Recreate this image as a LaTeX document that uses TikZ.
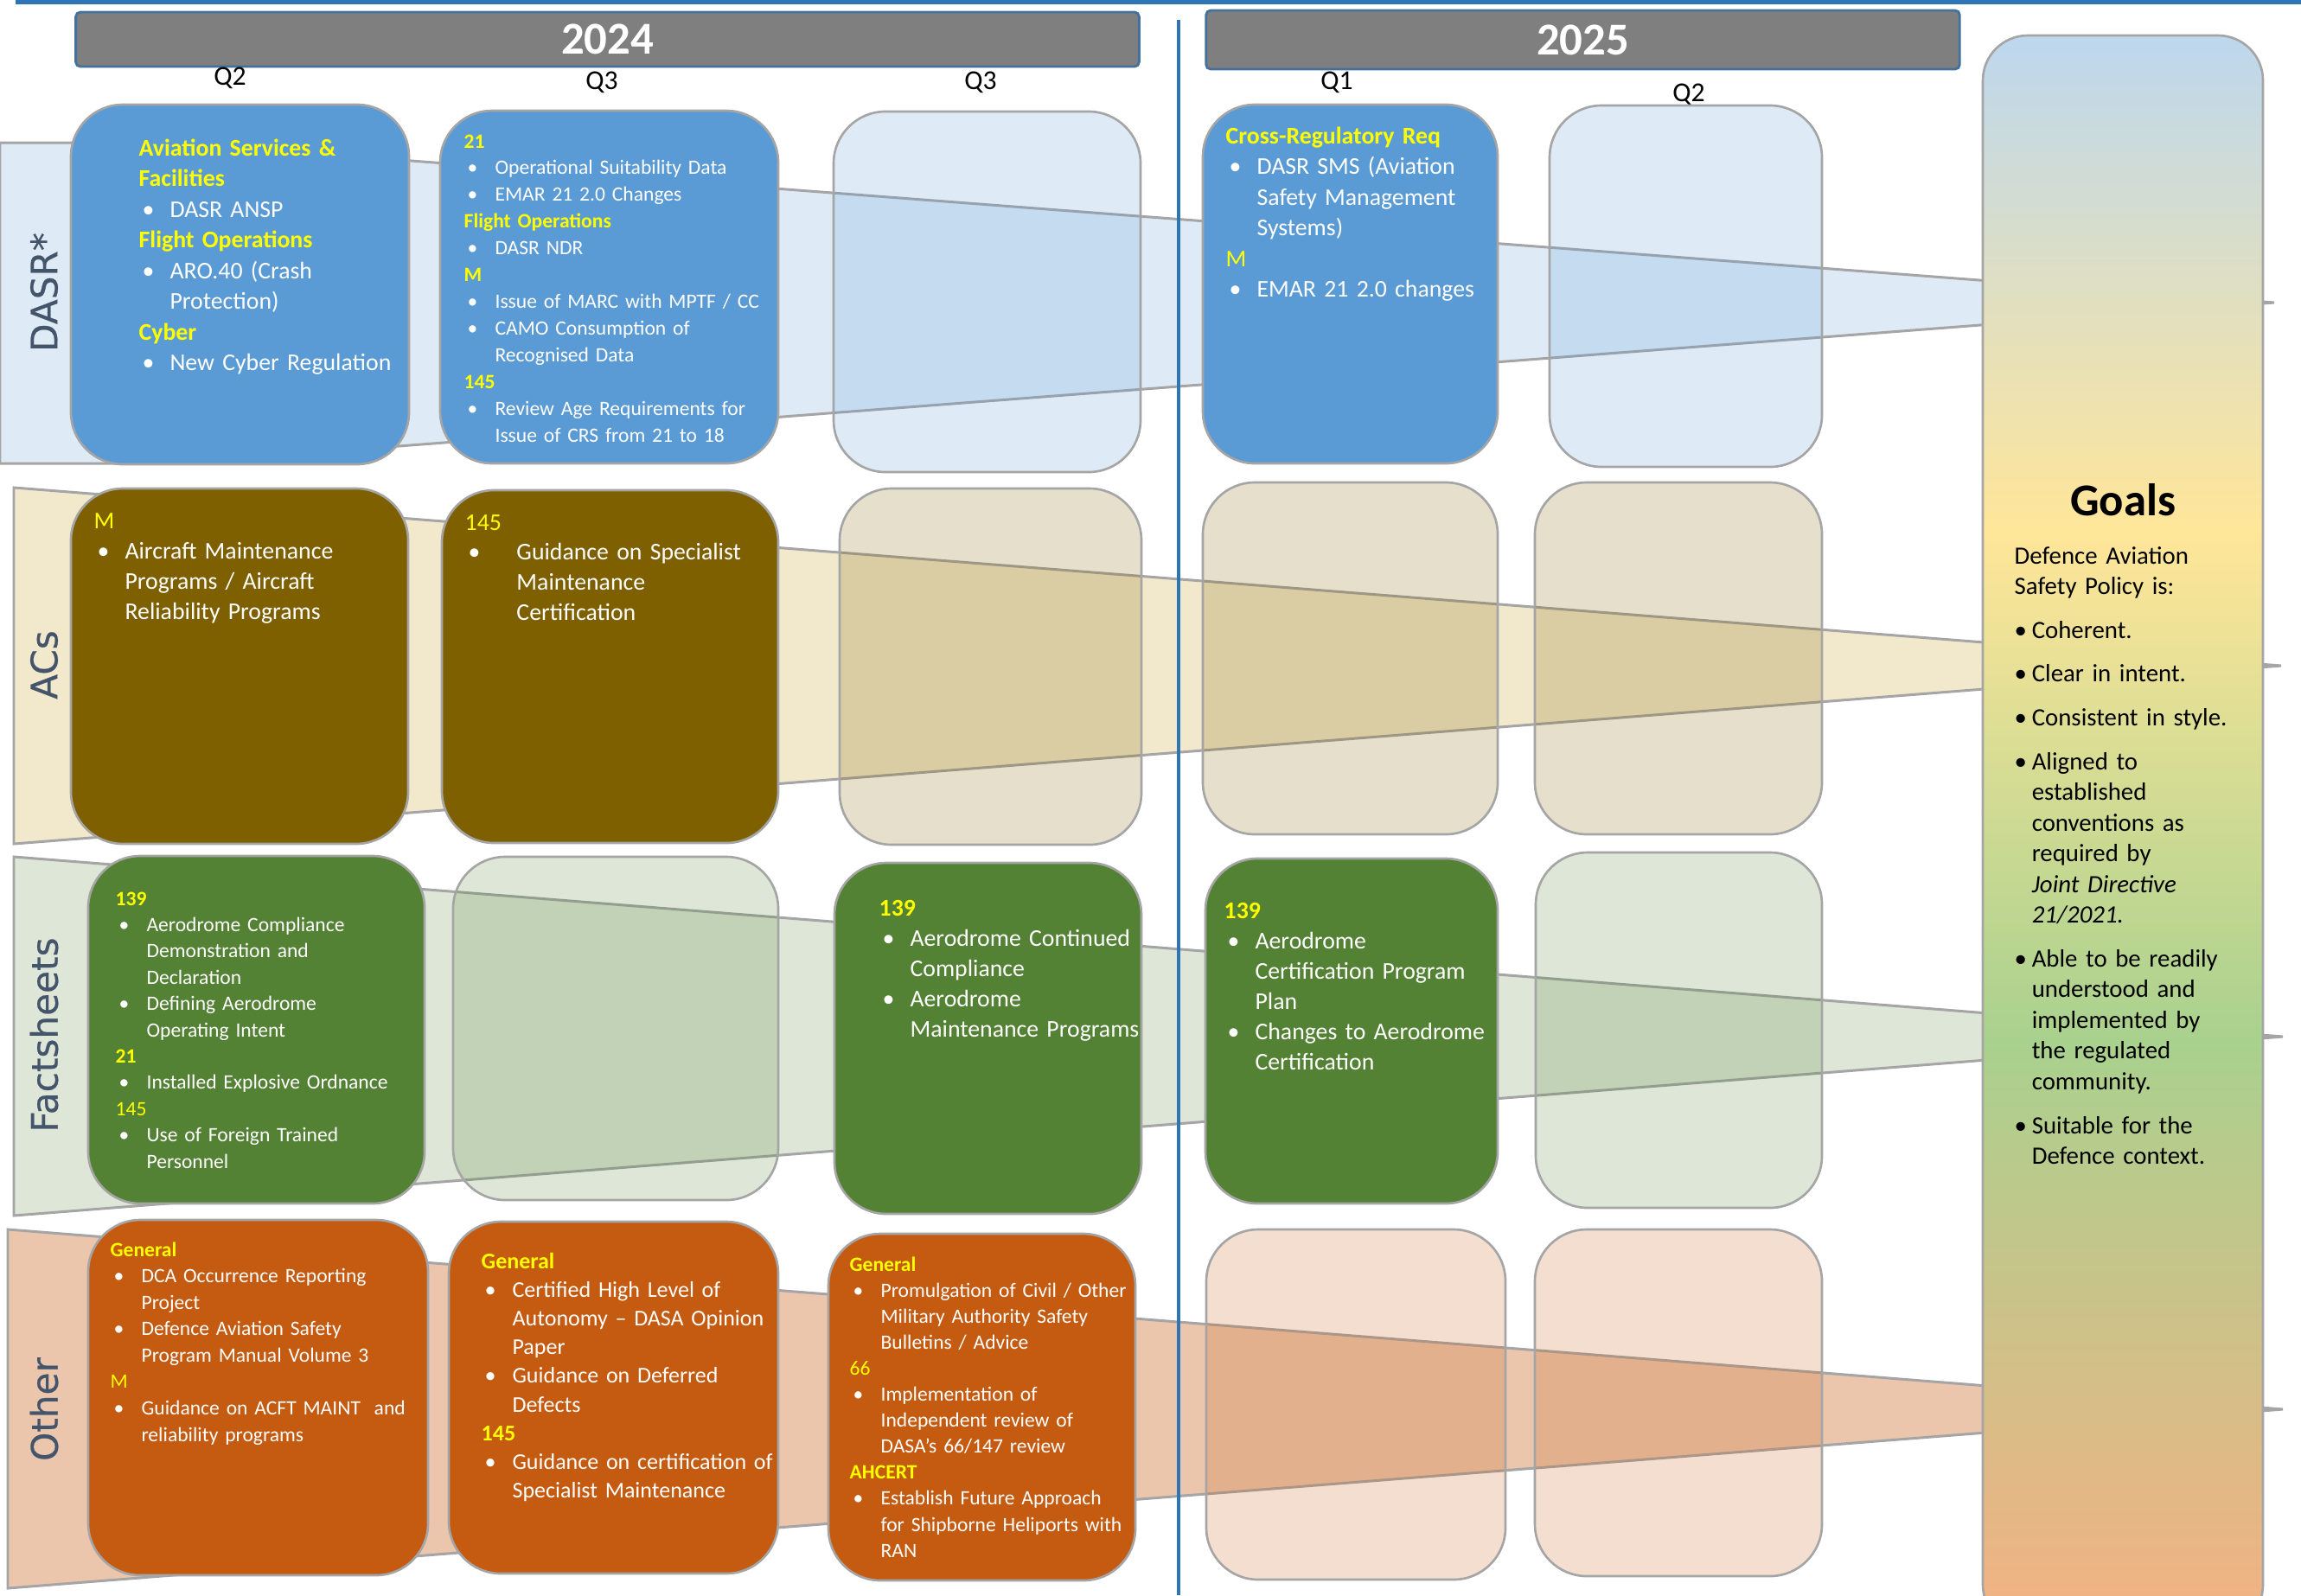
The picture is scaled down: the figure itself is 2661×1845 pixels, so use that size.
\documentclass[tikz,border=0pt]{standalone}
\usepackage{fontspec}
\setmainfont{Carlito}
\newfontfamily\rowfont[FakeBold=0.5]{DejaVu Sans}
\usepackage{tikz}
\usetikzlibrary{positioning}

\definecolor{dasrblue}{HTML}{5B9BD5}
\definecolor{acgold}{HTML}{7F6000}
\definecolor{acband}{HTML}{BF9000}
\definecolor{factgreen}{HTML}{548235}
\definecolor{otherorange}{HTML}{C55A11}
\definecolor{edgegray}{HTML}{A5A5A5}
\definecolor{hdyellow}{HTML}{FFFF00}
\definecolor{rulerblue}{HTML}{2E75B6}
\definecolor{yeargray}{HTML}{7F7F7F}
\definecolor{yearedge}{HTML}{41719C}
\definecolor{lblslate}{HTML}{44546A}
\definecolor{goalblue}{HTML}{BDD7EE}
\definecolor{goalgold}{HTML}{FFE699}
\definecolor{goalgreen}{HTML}{A9D18E}
\definecolor{goalorange}{HTML}{F4B183}

\pgfdeclareverticalshading{goalshade}{100bp}{color(0bp)=(goalorange); color(25bp)=(goalorange); color(43.5bp)=(goalgreen); color(59.5bp)=(goalgold); color(75bp)=(goalblue); color(100bp)=(goalblue)}

\newlength{\bulind}
\setlength{\bulind}{10.2pt}
\newlength{\bulpos}
\setlength{\bulpos}{1.1pt}
\newcommand{\nxl}{\hfil\break}
\newcommand{\itm}[2][\bulind]{\noindent\hangindent=#1\hangafter=1\makebox[#1][l]{\hspace{\bulpos}\textbullet}#2\par}
\newcommand{\hd}[1]{\noindent{\color{hdyellow}\bfseries #1}\par}
\newcommand{\hdl}[1]{\noindent{\color{hdyellow}#1}\par}

\begin{document}
\begin{tikzpicture}[x=0.01cm, y=-0.01cm,
    band/.style={draw=edgegray, line width=0.85pt, fill opacity=0.2},
    darkbox/.style={draw=edgegray, line width=0.75pt, rounded corners=0.6cm},
    lightbox/.style={darkbox, fill opacity=0.2},
    yearbar/.style={draw=yearedge, fill=yeargray, line width=0.8pt, rounded corners=1.5pt,
        text=white, font=\fontsize{15}{18}\selectfont\bfseries, inner sep=0pt},
    qlbl/.style={font=\fontsize{9}{11}\selectfont, inner sep=0pt},
    rowlbl/.style={rotate=90, text=lblslate, font=\rowfont\fontsize{12}{14}\selectfont, inner sep=0pt},
    itxt/.style={text=white, anchor=base west, inner sep=0pt, text width=4.2cm}]

    \useasboundingbox (0,0) rectangle (2661,1845);
    \clip (0,0) rectangle (2661,1845);

    % bands
    \filldraw[band, fill=dasrblue] (0,165) -- (200,165) -- (2630,350) -- (200,536) -- (0,536) -- cycle;
    \filldraw[band, fill=acband] (16,564) -- (2638,770) -- (16,976) -- cycle;
    \filldraw[band, fill=factgreen] (16,991) -- (2640,1199) -- (16,1406) -- cycle;
    \filldraw[band, fill=otherorange, fill opacity=0.35] (9,1422) -- (2640,1630) -- (9,1837) -- cycle;

    \node[rowlbl] (lbldasr) at (51,338) {DASR*};
    \node[rowlbl] (lblacs) at (51,769) {ACs};
    \node[rowlbl] (lblfact) at (51,1197) {Factsheets};
    \node[rowlbl] (lblother) at (51,1630) {Other};

    % years and quarters
    \draw[rulerblue, line width=1.4pt] (18,2.5) -- (2661,2.5);
    \draw[rulerblue, line width=0.9pt] (1363,23) -- (1363,1845);
    \node[yearbar, minimum width=12.29cm, minimum height=0.63cm] (y2024) at (702.5,45.5) {2024};
    \node[yearbar, minimum width=8.71cm, minimum height=0.68cm] (y2025) at (1830.5,46) {2025};
    \node[qlbl] (q24a) at (266,90) {Q2};
    \node[qlbl] (q24b) at (696,95) {Q3};
    \node[qlbl] (q24c) at (1134,95) {Q3};
    \node[qlbl] (q25a) at (1546,95) {Q1};
    \node[qlbl] (q25b) at (1953,109) {Q2};

    % empty quarters
    \draw[lightbox, fill=dasrblue] (964,129) rectangle (1319,546);
    \draw[lightbox, fill=dasrblue] (1792,122) rectangle (2107,540);
    \draw[lightbox, fill=acgold] (971,565) rectangle (1320,977);
    \draw[lightbox, fill=acgold] (1391,558) rectangle (1732,965);
    \draw[lightbox, fill=acgold] (1775,558) rectangle (2107,965);
    \draw[lightbox, fill=factgreen] (524,991) rectangle (900,1388);
    \draw[lightbox, fill=factgreen] (1776,986) rectangle (2107,1397);
    \draw[lightbox, fill=otherorange] (1395,1422) rectangle (1741,1827);
    \draw[lightbox, fill=otherorange] (1775,1422) rectangle (2107,1823);

    % planned work
    \draw[darkbox, fill=dasrblue] (82,121) rectangle (473,537);
    \draw[darkbox, fill=dasrblue] (509,128) rectangle (900,536);
    \draw[darkbox, fill=dasrblue] (1391,121) rectangle (1732,536);
    \draw[darkbox, fill=acgold] (82,565) rectangle (472,976);
    \draw[darkbox, fill=acgold] (511,567) rectangle (900,975);
    \draw[darkbox, fill=factgreen] (102,990) rectangle (491,1392);
    \draw[darkbox, fill=factgreen] (965,998) rectangle (1320,1404);
    \draw[darkbox, fill=factgreen] (1394,993) rectangle (1732,1392);
    \draw[darkbox, fill=otherorange] (102,1411) rectangle (495,1822);
    \draw[darkbox, fill=otherorange] (519,1413) rectangle (900,1820);
    \draw[darkbox, fill=otherorange] (958,1427) rectangle (1313,1828);

    \shadedraw[shading=goalshade, draw=edgegray, line width=0.75pt, rounded corners=0.52cm]
        (2293,41) rectangle (2617,1885);

    % texts
    \node[itxt, font=\fontsize{7.9}{10.1}\selectfont] (dasr1) at (160,180) {%
        \hd{Aviation Services \&\nxl Facilities}
        \itm{DASR ANSP}
        \hd{Flight Operations}
        \itm{ARO.40 (Crash\nxl Protection)}
        \hd{Cyber}
        \itm{New Cyber Regulation}};
    \node[itxt, font=\fontsize{6.7}{8.8}\selectfont] (dasr2) at (536,171) {%
        \hd{21}
        \itm{Operational Suitability Data}
        \itm{EMAR 21 2.0 Changes}
        \hd{Flight Operations}
        \itm{DASR NDR}
        \hd{M}
        \itm{Issue of MARC with MPTF / CC}
        \itm{CAMO Consumption of\nxl Recognised Data}
        \hd{145}
        \itm{Review Age Requirements for\nxl Issue of CRS from 21 to 18}};
    \node[itxt, font=\fontsize{7.9}{10.1}\selectfont] (dasr4) at (1417,166) {%
        \hd{Cross-Regulatory Req}
        \itm{DASR SMS (Aviation\nxl Safety Management\nxl Systems)}
        \hdl{M}
        \itm{EMAR 21 2.0 changes}};
    \node[itxt, font=\fontsize{7.9}{10}\selectfont] (acs1) at (108,611) {%
        \hdl{M}
        \itm{Aircraft Maintenance\nxl Programs / Aircraft\nxl Reliability Programs}};
    \node[itxt, font=\fontsize{7.9}{9.9}\selectfont] (acs2) at (537,613) {%
        \hdl{145}
        \itm[17pt]{Guidance on Specialist\nxl Maintenance\nxl Certification}};
    \node[itxt, font=\fontsize{6.7}{8.65}\selectfont] (fact1) at (133,1047) {%
        \hd{139}
        \itm{Aerodrome Compliance\nxl Demonstration and\nxl Declaration}
        \itm{Defining Aerodrome\nxl Operating Intent}
        \hd{21}
        \itm{Installed Explosive Ordnance}
        \hdl{145}
        \itm{Use of Foreign Trained\nxl Personnel}};
    \node[itxt, font=\fontsize{7.9}{10}\selectfont] (fact3) at (1016,1059) {%
        \hd{139}
        \itm{Aerodrome Continued\nxl Compliance}
        \itm{Aerodrome\nxl Maintenance Programs}};
    \node[itxt, font=\fontsize{7.9}{10}\selectfont] (fact4) at (1415,1062) {%
        \hd{139}
        \itm{Aerodrome\nxl Certification Program\nxl Plan}
        \itm{Changes to Aerodrome\nxl Certification}};
    \node[itxt, font=\fontsize{6.7}{8.7}\selectfont] (other1) at (127,1453) {%
        \hd{General}
        \itm{DCA Occurrence Reporting\nxl Project}
        \itm{Defence Aviation Safety\nxl Program Manual Volume 3}
        \hdl{M}
        \itm{Guidance on ACFT MAINT~ and\nxl reliability programs}};
    \node[itxt, font=\fontsize{7.4}{9.45}\selectfont] (other2) at (556,1467) {%
        \hd{General}
        \itm{Certified High Level of\nxl Autonomy – DASA Opinion\nxl Paper}
        \itm{Guidance on Deferred\nxl Defects}
        \hd{145}
        \itm{Guidance on certification of\nxl Specialist Maintenance}};
    \node[itxt, font=\fontsize{6.7}{8.56}\selectfont] (other3) at (982,1470) {%
        \hd{General}
        \itm{Promulgation of Civil / Other\nxl Military Authority Safety\nxl Bulletins / Advice}
        \hdl{66}
        \itm{Implementation of\nxl Independent review of\nxl DASA’s 66/147 review}
        \hd{AHCERT}
        \itm{Establish Future Approach\nxl for Shipborne Heliports with\nxl RAN}};

    \node[font=\fontsize{15}{18}\selectfont\bfseries, anchor=base, inner sep=0pt] (goalttl) at (2455,596) {Goals};
    \node[itxt, text=black, text width=3cm, font=\fontsize{8.2}{10.1}\selectfont] (goaltxt) at (2329,652) {%
        \setlength{\parskip}{4.3pt}\setlength{\bulpos}{0pt}%
        \noindent Defence Aviation\nxl Safety Policy is:\par
        \itm[5.7pt]{Coherent.}
        \itm[5.7pt]{Clear in intent.}
        \itm[5.7pt]{Consistent in style.}
        \itm[5.7pt]{Aligned to\nxl established\nxl conventions as\nxl required by\nxl \textit{Joint Directive\nxl 21/2021.}}
        \itm[5.7pt]{Able to be readily\nxl understood and\nxl implemented by\nxl the regulated\nxl community.}
        \itm[5.7pt]{Suitable for the\nxl Defence context.}};
\end{tikzpicture}
\end{document}
